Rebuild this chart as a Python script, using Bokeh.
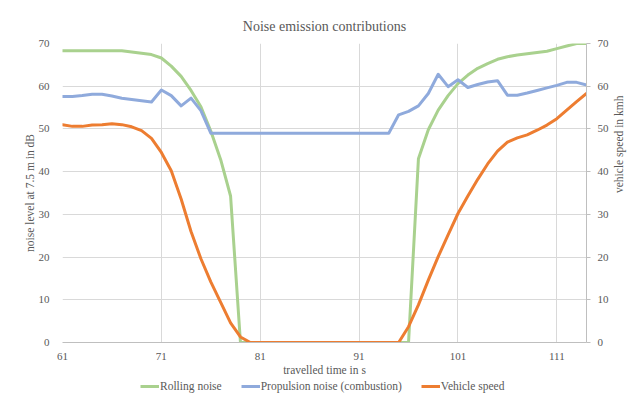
import math
from bokeh.plotting import figure
from bokeh.layouts import column
from bokeh.models import Range1d, LinearAxis, FixedTicker, Legend, LegendItem
from bokeh.embed import file_html
from bokeh.resources import INLINE

# ---- data ----
time_s = list(range(61, 115))

rolling_noise = [68.3, 68.3, 68.3, 68.3, 68.3, 68.3, 68.3,
                 68.0, 67.7, 67.4, 66.6, 64.7, 62.3, 59.0, 55.2, 49.5, 42.8, 34.3,
                 0, 0, 0, 0, 0, 0, 0, 0, 0, 0, 0, 0, 0, 0, 0, 0, 0, 0,
                 43.0, 49.8, 54.4, 57.8, 60.6, 62.6, 64.2, 65.3, 66.3, 66.9,
                 67.3, 67.6, 67.9, 68.2, 68.8, 69.4, 70.0, 70.0]

propulsion_noise = [57.6, 57.6, 57.8, 58.1, 58.1, 57.7, 57.2, 56.9, 56.6, 56.3,
                    59.1, 57.8, 55.4, 57.2, 54.3,
                    49.0, 49.0, 49.0, 49.0, 49.0, 49.0, 49.0, 49.0, 49.0, 49.0,
                    49.0, 49.0, 49.0, 49.0, 49.0, 49.0, 49.0, 49.0, 49.0,
                    53.3, 54.1, 55.4, 58.3, 62.8, 59.9, 61.5, 59.7, 60.4, 61.0,
                    61.3, 57.9, 57.9, 58.4, 59.0, 59.6, 60.2, 60.9, 60.9, 60.3]

vehicle_speed = [51.0, 50.6, 50.6, 50.9, 51.0, 51.2, 51.0, 50.5, 49.6, 47.8,
                 44.5, 40.2, 33.6, 26.0, 19.6, 14.2, 9.4, 4.6, 1.3,
                 0, 0, 0, 0, 0, 0, 0, 0, 0, 0, 0, 0, 0, 0, 0, 0,
                 3.7, 8.8, 14.6, 20.1, 25.2, 30.2, 34.3, 38.2, 41.8, 44.8,
                 46.9, 47.9, 48.6, 49.7, 50.9, 52.4, 54.4, 56.4, 58.3]

x_ticks = [61, 71, 81, 91, 101, 111]
y_ticks = [0, 10, 20, 30, 40, 50, 60, 70]

series_names = ["Rolling noise", "Propulsion noise (combustion)", "Vehicle speed"]
series_values = [rolling_noise, propulsion_noise, vehicle_speed]
series_colors = ["#A9D18E", "#8FAADC", "#ED7D31"]

FONT = "Liberation Serif"
TXT = "#595959"
GRID = "#D9D9D9"
AXIS = "#BFBFBF"

p = figure(width=633, height=379, output_backend="svg", toolbar_location=None,
           x_range=Range1d(61, 114), y_range=Range1d(0, 70),
           min_border_left=62, min_border_right=44, min_border_top=43,
           min_border_bottom=37, title="Noise emission contributions")
p.extra_y_ranges = {"speed": Range1d(0, 70)}
p.outline_line_color = None
p.background_fill_color = "white"
p.border_fill_color = "white"

p.title.align = "center"
p.title.text_font = FONT
p.title.text_font_size = "14px"
p.title.text_font_style = "normal"
p.title.text_color = TXT
p.title.padding = 5

# grids
p.xgrid.ticker = FixedTicker(ticks=x_ticks)
p.ygrid.ticker = FixedTicker(ticks=y_ticks)
for g in (p.xgrid[0], p.ygrid[0]):
    g.grid_line_color = GRID
    g.grid_line_width = 1

# bottom axis
xa = p.xaxis[0]
xa.ticker = FixedTicker(ticks=x_ticks)
xa.axis_label = "travelled time in s"
xa.axis_line_color = AXIS
xa.major_tick_out = 0
xa.major_tick_in = 0
xa.minor_tick_out = 0
xa.minor_tick_in = 0
xa.major_label_standoff = 10
xa.axis_label_standoff = 1

# left axis
ya = p.yaxis[0]
ya.ticker = FixedTicker(ticks=y_ticks)
ya.axis_label = "noise level at 7.5 m in dB"
ya.axis_line_color = None
ya.major_tick_out = 0
ya.major_tick_in = 0
ya.minor_tick_out = 0
ya.minor_tick_in = 0
ya.major_label_standoff = 13
ya.axis_label_standoff = 0

# right axis
ya2 = LinearAxis(y_range_name="speed", ticker=FixedTicker(ticks=y_ticks),
                 axis_label="vehicle speed in kmh")
ya2.axis_line_color = AXIS
ya2.major_tick_line_color = AXIS
ya2.major_tick_out = 4
ya2.major_tick_in = 0
ya2.minor_tick_out = 0
ya2.minor_tick_in = 0
ya2.major_label_standoff = 7
ya2.axis_label_standoff = 7
try:
    ya2.axis_label_orientation = math.pi / 2
except Exception:
    pass
p.add_layout(ya2, "right")

for ax in (xa, ya, ya2):
    ax.major_label_text_font = FONT
    ax.major_label_text_font_size = "11px"
    ax.major_label_text_color = TXT
    ax.axis_label_text_font = FONT
    ax.axis_label_text_font_size = "11.5px"
    ax.axis_label_text_font_style = "normal"
    ax.axis_label_text_color = TXT

p.line(time_s, rolling_noise, line_color=series_colors[0], line_width=3,
       line_join="round", line_cap="round")
p.line(time_s, propulsion_noise, line_color=series_colors[1], line_width=3,
       line_join="round", line_cap="round")
p.line(time_s, vehicle_speed, line_color=series_colors[2], line_width=3,
       line_join="round", line_cap="round", y_range_name="speed")

# legend strip below the chart (its lines lie outside its ranges; only the
# legend swatches show)
lf = figure(width=633, height=14, output_backend="svg", toolbar_location=None,
            x_range=Range1d(0, 1), y_range=Range1d(0, 1),
            x_axis_type=None, y_axis_type=None, min_border=0)
lf.outline_line_color = None
lf.background_fill_color = "white"
lf.border_fill_color = "white"
items = []
for name, vals, col in zip(series_names, series_values, series_colors):
    r = lf.line(time_s, vals, line_color=col, line_width=3)
    items.append(LegendItem(label=name, renderers=[r]))

legend = Legend(items=items, location=(78, 1), orientation="horizontal")
legend.label_text_font = FONT
legend.label_text_font_size = "11.5px"
legend.label_text_color = TXT
legend.glyph_width = 19
legend.glyph_height = 12
legend.label_height = 12
legend.label_standoff = 1
legend.spacing = 19
legend.padding = 0
legend.margin = 0
legend.border_line_color = None
legend.background_fill_alpha = 0
lf.add_layout(legend)

layout = column(p, lf, spacing=0)

open("out.html", "w").write(file_html(layout, INLINE))
